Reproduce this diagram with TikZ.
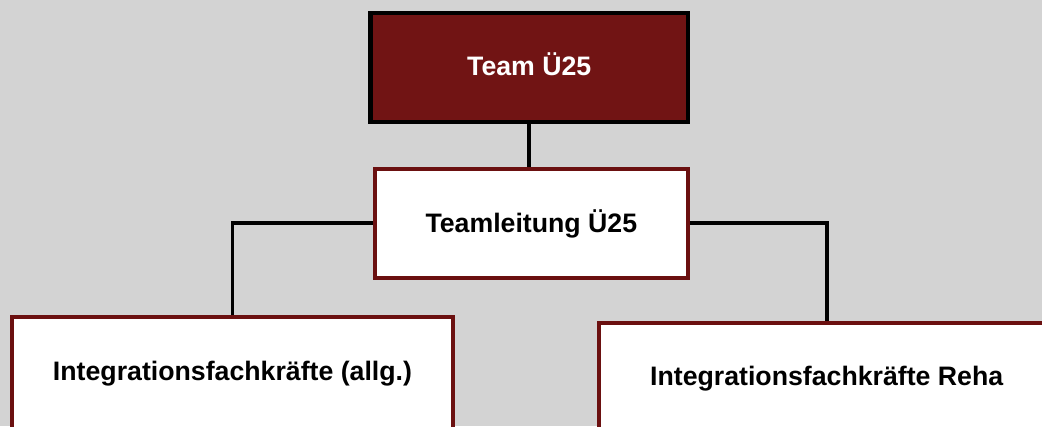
\documentclass[tikz,border=0pt]{standalone}
\usepackage{fontspec}
\setmainfont{Liberation Sans}
\usetikzlibrary{backgrounds}
\definecolor{bg}{HTML}{D3D3D3}
\definecolor{teamred}{HTML}{711414}
\definecolor{boxborder}{HTML}{6B1010}
\begin{document}
\begin{tikzpicture}[x=1bp,y=-1bp,
  font=\fontsize{26.7bp}{30bp}\selectfont\bfseries,
  orgbox/.style={rectangle, inner sep=0pt, text height=63bp, line width=4bp, draw=boxborder, fill=white, anchor=north},
  link/.style={line width=3.8bp, draw=black}]
\useasboundingbox (0,0) rectangle (1042,426);
\clip (0,0) rectangle (1042,426);
\node[orgbox, fill=teamred, draw=black, line width=4.3bp, text=white, minimum width=317.5bp, text depth=46.2bp] (team) at (529.25,10.5) {Team Ü25};
\node[orgbox, minimum width=312.7bp, text depth=45.7bp] (lead) at (531.35,167) {Teamleitung Ü25};
\node[orgbox, minimum width=441bp, text depth=120bp] (allg) at (232.5,315) {Integrationsfachkräfte (allg.)};
\node[orgbox, minimum width=456.4bp, text depth=120bp] (reha) at (826.7,320.8) {Integrationsfachkräfte Reha};
\begin{pgfonlayer}{background}
\fill[bg] (0,0) rectangle (1042,426);
\draw[link] (team.south) -- (team.south |- lead.north);
\draw[link] (lead.west) -| (allg.north);
\draw[link] (lead.east) -| (reha.north);
\end{pgfonlayer}
\end{tikzpicture}
\end{document}
